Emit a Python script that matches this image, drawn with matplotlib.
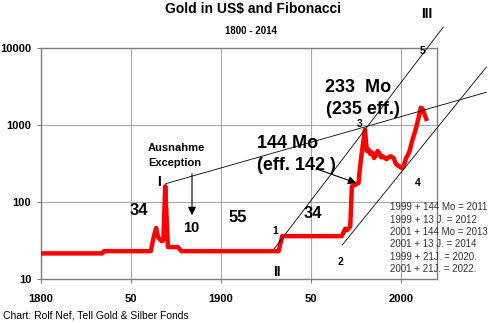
import matplotlib.pyplot as plt

plt.rcParams['font.family'] = ['Liberation Sans', 'DejaVu Sans']

# gold price in US$ (log scale)
years = [1800, 1834, 1835, 1861, 1862, 1863, 1864, 1865, 1866, 1867, 1868,
         1869, 1870.5, 1872, 1876, 1878, 1932, 1934, 1967, 1968, 1969, 1970,
         1971.8, 1972.7, 1974, 1975, 1976.4, 1977, 1978, 1979, 1980, 1981,
         1982, 1983, 1984, 1985, 1986, 1987, 1988, 1989, 1990, 1991, 1992,
         1993, 1994, 1995, 1996, 1997, 1998, 1999, 2000, 2001, 2002, 2003,
         2004, 2005, 2006, 2007, 2008, 2009, 2010, 2011, 2012, 2013, 2014]
prices = [21.5, 21.5, 23, 23, 30, 38, 46, 35, 33, 31, 32,
          160, 26, 26, 26, 23, 23, 36, 36, 40, 45, 43,
          48, 160, 165, 170, 176, 250, 400, 600, 870, 460,
          480, 420, 440, 373, 400, 460, 430, 380, 390, 373, 360,
          380, 392, 385, 370, 320, 300, 290, 280, 277, 320, 380,
          414, 480, 600, 716, 850, 1050, 1306, 1680, 1620, 1400, 1200]

# Fibonacci trend lines (year, price) end points
line_I_x, line_I_y = [1869.3, 2047.4], [173, 2660]
line_II_x, line_II_y = [1929.5, 2023.5], [24.6, 18700]
line_low_x, line_low_y = [1967.4, 2047.4], [27.7, 5640]

x_ticks = [1800, 1850, 1900, 1950, 2000]
x_labels = ['1800', '50', '1900', '50', '2000']
y_ticks = [10, 100, 1000, 10000]
y_labels = ['10', '100', '1000', '10000']

notes = ['1999 + 144 Mo = 2011', '1999 + 13 J. = 2012', '2001 + 144 Mo = 2013',
         '2001 + 13 J. = 2014', '1999 + 21J. = 2020.', '2001 + 21J. = 2022.']

W, H = 488, 323
fig = plt.figure(figsize=(W / 100, H / 100), dpi=100)
ax = fig.add_axes([41 / W, 1 - 279 / H, (437 - 41) / W, (279 - 48) / H])


def px(x, y):
    return x / W, 1 - y / H


ax.set_yscale('log')
ax.set_xlim(1800, 2020)
ax.set_ylim(10, 10000)
ax.set_xticks(x_ticks)
ax.set_xticklabels(x_labels, fontweight='bold', fontsize=8)
ax.set_yticks(y_ticks)
ax.set_yticklabels(y_labels, fontweight='bold', fontsize=8)
ax.minorticks_off()
ax.tick_params(direction='out', length=3, color='#808080', pad=4)
ax.tick_params(axis='x', pad=8)
ax.grid(True, color='#a8a8a8', lw=0.8)
ax.set_axisbelow(True)
for s in ax.spines.values():
    s.set_color('#808080')
    s.set_linewidth(1)

ax.plot(years, prices, color='#ff0000', lw=3.2, solid_joinstyle='round', zorder=3)

for lx, ly in [(line_I_x, line_I_y), (line_II_x, line_II_y), (line_low_x, line_low_y)]:
    ax.plot(lx, ly, color='black', lw=0.6, clip_on=False, zorder=4)

# titles
fig.text(*px(253, 9), 'Gold in US$ and Fibonacci', ha='center', va='center',
         fontsize=10, fontweight='bold')
fig.text(*px(251, 31), '1800 - 2014', ha='center', va='center', fontsize=7, fontweight='bold')

big = dict(ha='center', va='center', fontweight='bold', fontsize=13)
fig.text(*px(358, 88), '233  Mo', **big)
fig.text(*px(363, 110), '(235 eff.)', **big)
fig.text(*px(288, 143), '144 Mo', **big)
fig.text(*px(296, 165), '(eff. 142 )', **big)

mid = dict(ha='center', va='center', fontweight='bold', fontsize=12)
fig.text(*px(139, 210.5), '34', **mid)
fig.text(*px(238, 217.5), '55', **mid)
fig.text(*px(312.5, 213.5), '34', **mid)
fig.text(*px(191, 227.5), '10', ha='center', va='center', fontweight='bold', fontsize=10.5)

fig.text(*px(176, 148), 'Ausnahme', ha='center', va='center', fontweight='bold', fontsize=8)
fig.text(*px(175, 163), 'Exception', ha='center', va='center', fontweight='bold', fontsize=8)

roman = dict(ha='center', va='center', fontweight='bold', fontsize=10)
fig.text(*px(158.5, 182), 'I', **roman)
fig.text(*px(277, 272), 'II', **roman)
fig.text(*px(427, 14), 'III', **roman)

small = dict(ha='center', va='center', fontweight='bold', fontsize=7.5)
fig.text(*px(275.5, 231), '1', **small)
fig.text(*px(340.5, 262), '2', **small)
fig.text(*px(359.5, 124), '3', **small)
fig.text(*px(417.5, 183.5), '4', **small)
fig.text(*px(423, 51), '5', **small)

for i, t in enumerate(notes):
    fig.text(*px(389.5, 207.5 + i * 12.3), t, ha='left', va='center',
             fontsize=7, color='#333333')

fig.text(*px(3, 315), 'Chart: Rolf Nef, Tell Gold & Silber Fonds', ha='left', va='center',
         fontsize=7.5)

# arrows
ax.annotate('', xy=px(192, 218), xytext=px(192, 171),
            xycoords='figure fraction', textcoords='figure fraction',
            arrowprops=dict(arrowstyle='-|>', color='black', lw=0.8, mutation_scale=12))
ax.annotate('', xy=px(359, 184), xytext=px(314, 168),
            xycoords='figure fraction', textcoords='figure fraction',
            arrowprops=dict(arrowstyle='-|>', color='black', lw=0.8, mutation_scale=12))

fig.savefig('out.png', dpi=100)
